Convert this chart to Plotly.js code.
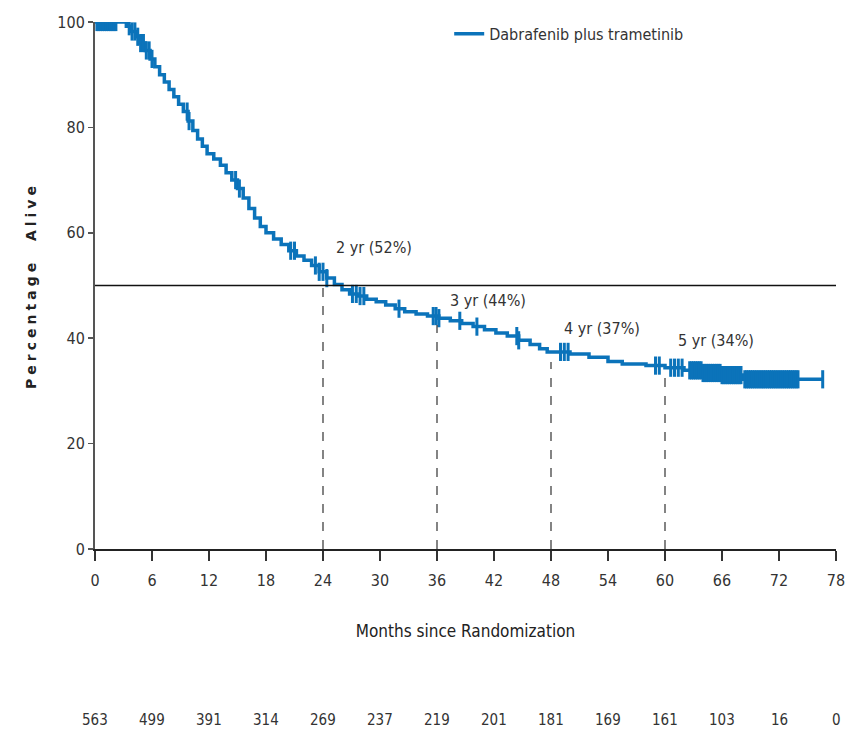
<!DOCTYPE html>
<html>
<head>
<meta charset="utf-8">
<script src="https://cdn.plot.ly/plotly-3.0.1.min.js"></script>
<style>
html,body{margin:0;padding:0;background:#fff;}
#chart{width:856px;height:737px;}
.ytitle{letter-spacing:4px;}
</style>
</head>
<body>
<div id="chart"></div>
<script>
// ---- Data ----
const seriesName = "Dabrafenib plus trametinib";
const kmMonths = [0, 3.3, 3.8, 4.3, 4.8, 5.3, 5.8, 6.3, 6.8, 7.3, 7.8, 8.3, 8.8, 9.3, 9.8, 10.3, 10.8, 11.3, 11.8, 12.5, 13.2, 13.8, 14.4, 15.0, 15.6, 16.2, 16.8, 17.4, 18.0, 18.8, 19.6, 20.4, 21.2, 22.0, 22.8, 23.6, 24.4, 25.2, 26.0, 26.8, 27.6, 28.6, 29.6, 30.6, 31.6, 32.6, 33.8, 35.0, 36.2, 37.4, 38.6, 39.8, 41.0, 42.2, 43.4, 44.6, 45.8, 46.8, 47.6, 50.0, 52.0, 54.0, 55.5, 58.0, 60.0, 62.0, 64.0, 66.0, 68.2, 76.6];
const kmSurvival = [100, 99.2, 98.2, 97.2, 96.0, 94.6, 93.0, 91.5, 90.0, 88.6, 87.2, 85.8, 84.4, 83.0, 81.2, 79.4, 77.8, 76.4, 75.0, 74.0, 72.8, 71.4, 70.0, 68.4, 66.6, 64.6, 62.8, 61.2, 60.0, 58.8, 57.8, 56.6, 55.6, 54.8, 53.8, 52.6, 51.4, 50.2, 49.2, 48.4, 48.0, 47.4, 46.9, 46.3, 45.6, 45.0, 44.6, 44.2, 43.8, 43.3, 42.8, 42.2, 41.6, 41.0, 40.4, 39.6, 38.8, 38.0, 37.4, 37.0, 36.4, 35.6, 35.1, 34.8, 34.4, 33.9, 33.4, 33.0, 32.2, 32.2];
const censorMonths = [0.2, 0.4, 0.6, 0.8, 1.0, 1.2, 1.4, 1.6, 1.8, 2.0, 2.2, 3.6, 3.9, 4.2, 4.5, 4.8, 5.1, 5.4, 5.7, 6.0, 9.7, 9.9, 14.8, 15.2, 20.6, 21.0, 23.2, 23.6, 24.0, 24.4, 27.1, 27.5, 27.9, 28.3, 32.0, 35.6, 35.9, 36.2, 38.4, 40.2, 44.4, 44.6, 49.0, 49.4, 49.8, 59.0, 59.4, 60.6, 61.0, 61.4, 61.8, 62.6, 62.8, 63.0, 63.2, 63.4, 63.6, 63.8, 64.0, 64.2, 64.4, 64.6, 64.8, 65.0, 65.2, 65.4, 65.6, 65.8, 66.0, 66.2, 66.4, 66.6, 66.8, 67.0, 67.2, 67.4, 67.6, 67.8, 68.0, 68.4, 68.6, 68.8, 69.0, 69.2, 69.4, 69.6, 69.8, 70.0, 70.2, 70.4, 70.6, 70.8, 71.0, 71.2, 71.4, 71.6, 71.8, 72.0, 72.2, 72.4, 72.6, 72.8, 73.0, 73.2, 73.4, 73.6, 73.8, 74.0, 76.6];
const landmarkMonths = [24, 36, 48, 60];
const landmarkPct = [52, 44, 37, 34];
const landmarkLabels = ["2 yr (52%)", "3 yr (44%)", "4 yr (37%)", "5 yr (34%)"];
const xTicks = [0, 6, 12, 18, 24, 30, 36, 42, 48, 54, 60, 66, 72, 78];
const yTicks = [0, 20, 40, 60, 80, 100];
const atRisk = [563, 499, 391, 314, 269, 237, 219, 201, 181, 169, 161, 103, 16, 0];
const medianLine = 50;

// ---- Helpers ----
function kmAt(t) {
  let v = kmSurvival[0];
  for (let i = 0; i < kmMonths.length; i++) { if (kmMonths[i] <= t) v = kmSurvival[i]; }
  return v;
}
const color = "#0b73ba";
const font = "'DejaVu Sans Condensed', 'Liberation Sans Narrow', 'Arial Narrow', sans-serif";
const labelYShift = [27, 17, 26, 29];

const traces = [
  {
    x: kmMonths, y: kmSurvival, type: "scatter", mode: "lines", name: seriesName,
    line: {shape: "hv", color: color, width: 3.5}
  },
  {
    x: censorMonths, y: censorMonths.map(kmAt), type: "scatter", mode: "markers", showlegend: false,
    marker: {symbol: "line-ns", size: 13, line: {color: color, width: 3}}, hoverinfo: "skip"
  }
];

const shapes = [
  {type: "line", xref: "paper", yref: "y", x0: 0, x1: 1, y0: medianLine, y1: medianLine, line: {color: "#111", width: 1.5}}
];
landmarkMonths.forEach((m, i) => {
  shapes.push({type: "line", xref: "x", yref: "y", x0: m, x1: m, y0: 0, y1: landmarkPct[i] - 1.5, line: {color: "#333", width: 1.2, dash: "dash"}});
});

const annotations = [];
landmarkMonths.forEach((m, i) => {
  annotations.push({x: m, y: landmarkPct[i], xref: "x", yref: "y", text: landmarkLabels[i], showarrow: false,
    xanchor: "left", yanchor: "middle", xshift: 11, yshift: labelYShift[i], font: {family: font, size: 16, color: "#333"}});
});
xTicks.forEach((t, i) => {
  annotations.push({x: t, y: -0.325, xref: "x", yref: "paper", text: String(atRisk[i]), showarrow: false,
    xanchor: "center", yanchor: "middle", font: {family: font, size: 15, color: "#333"}});
});

const layout = {
  width: 856, height: 737,
  margin: {l: 95, r: 20, t: 22, b: 188},
  paper_bgcolor: "#fff", plot_bgcolor: "#fff",
  showlegend: true,
  legend: {x: 0.478, y: 1.01, xanchor: "left", yanchor: "top", bgcolor: "rgba(0,0,0,0)",
    font: {family: font, size: 16, color: "#333"}},
  xaxis: {
    range: [0, 78], tickvals: xTicks, ticktext: xTicks.map(String), showgrid: false, zeroline: false,
    showline: true, linecolor: "#222", linewidth: 2, ticks: "outside", ticklen: 10, tickwidth: 1.5, tickcolor: "#333",
    tickfont: {family: font, size: 16, color: "#333"}, ticklabelstandoff: 6,
    title: {text: "Months since Randomization", font: {family: font, size: 17, color: "#222"}, standoff: 36}
  },
  yaxis: {
    range: [0, 100], tickvals: yTicks, showgrid: false, zeroline: false,
    showline: true, linecolor: "#555", linewidth: 2, ticks: "outside", ticklen: 5, tickwidth: 1.5, tickcolor: "#555",
    tickfont: {family: font, size: 16, color: "#333"},
    title: {text: "<b>Percentage  Alive</b>", font: {family: "'DejaVu Sans', sans-serif", size: 14, color: "#222"}, standoff: 17}
  },
  shapes: shapes,
  annotations: annotations
};

Plotly.newPlot("chart", traces, layout, {staticPlot: true, displayModeBar: false});
</script>
</body>
</html>
